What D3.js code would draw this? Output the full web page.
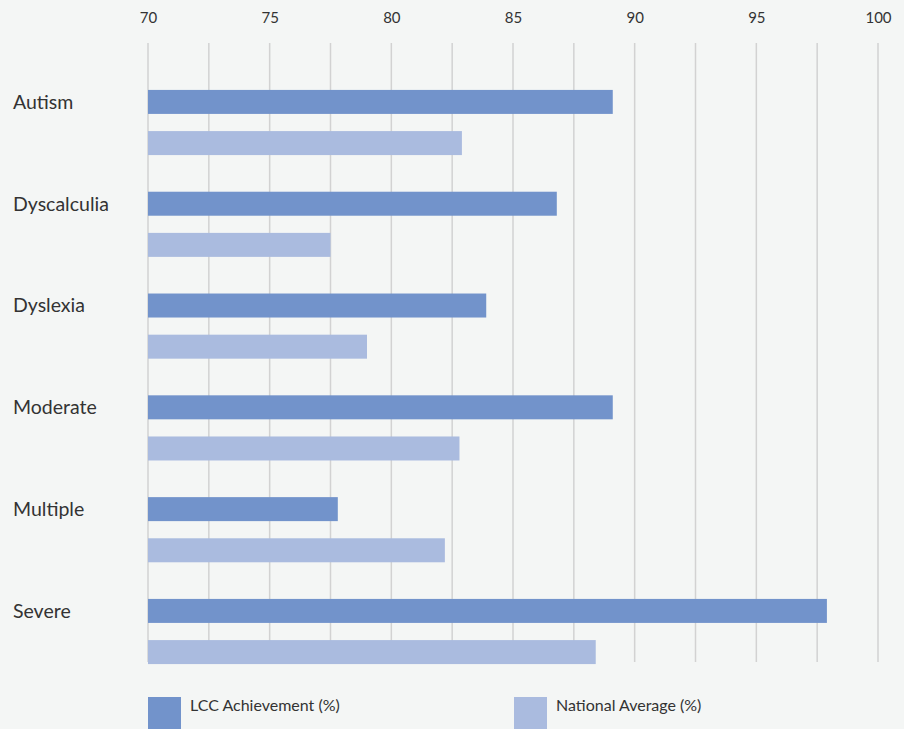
<!DOCTYPE html>
<html>
<head>
<meta charset="utf-8">
<script src="https://cdn.jsdelivr.net/npm/d3@7"></script>
<style>
  body { margin: 0; background: #f4f6f5; }
  svg text { font-family: Lato, "Open Sans", sans-serif; fill: #333; }
</style>
</head>
<body>
<svg id="chart" width="904" height="729"></svg>
<script>
const categories = ['Autism', 'Dyscalculia', 'Dyslexia', 'Moderate', 'Multiple', 'Severe'];
const seriesNames = ['LCC Achievement (%)', 'National Average (%)'];
const lccValues = [89.1, 86.8, 83.9, 89.1, 77.8, 97.9];
const nationalValues = [82.9, 77.5, 79.0, 82.8, 82.2, 88.4];
const tickLabels = [70, 75, 80, 85, 90, 95, 100];
const gridValues = [70, 72.5, 75, 77.5, 80, 82.5, 85, 87.5, 90, 92.5, 95, 97.5, 100];
const colors = ['#7293cb', '#aabbdf'];

const svg = d3.select('#chart');

const x = d3.scaleLinear().domain([70, 100]).range([148, 878]);
const y = d3.scaleBand().domain(categories).range([71.6, 682.4])
  .paddingInner(0.36).paddingOuter(0.18);
const ySub = d3.scaleBand().domain(seriesNames).range([0, y.bandwidth()]).paddingInner(0.417);

// grid
svg.append('g')
  .selectAll('line')
  .data(gridValues)
  .enter().append('line')
  .attr('x1', d => x(d))
  .attr('x2', d => x(d))
  .attr('y1', 43)
  .attr('y2', 662)
  .style('stroke', '#d2d2d2')
  .style('stroke-width', 1.5);

// top axis labels
const axis = svg.append('g')
  .attr('transform', 'translate(0,23)')
  .call(d3.axisTop(x).tickValues(tickLabels).tickSize(0).tickPadding(0));
axis.select('.domain').remove();
axis.selectAll('text')
  .style('font-size', '15px')
  .attr('fill', '#333')
  .style('font-family', 'Lato, "Open Sans", sans-serif');

const data = categories.map((c, i) => ({
  cat: c,
  vals: [
    { s: seriesNames[0], v: lccValues[i] },
    { s: seriesNames[1], v: nationalValues[i] }
  ]
}));

const groups = svg.append('g')
  .selectAll('g')
  .data(data)
  .enter().append('g')
  .attr('transform', d => 'translate(0,' + y(d.cat) + ')');

groups.selectAll('rect')
  .data(d => d.vals)
  .enter().append('rect')
  .attr('x', x(70))
  .attr('y', d => ySub(d.s))
  .attr('width', d => x(d.v) - x(70))
  .attr('height', ySub.bandwidth())
  .attr('fill', (d, i) => colors[i]);

groups.append('text')
  .attr('x', 13)
  .attr('y', ySub.bandwidth() / 2)
  .attr('dy', '0.35em')
  .style('font-size', '19.5px')
  .text(d => d.cat);

// legend
const legendX = [148, 514];
const legend = svg.append('g')
  .selectAll('g')
  .data(seriesNames)
  .enter().append('g')
  .attr('transform', (d, i) => 'translate(' + legendX[i] + ',697)');

legend.append('rect')
  .attr('width', 33)
  .attr('height', 34)
  .attr('fill', (d, i) => colors[i]);

legend.append('text')
  .attr('x', 42)
  .attr('y', 8)
  .attr('dy', '0.35em')
  .style('font-size', '16px')
  .text(d => d);
</script>
</body>
</html>
